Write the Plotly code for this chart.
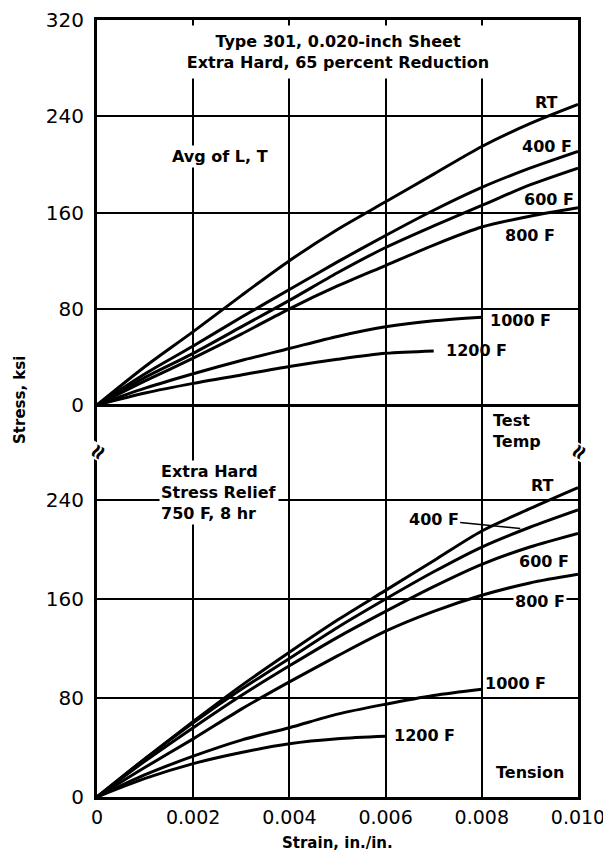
import plotly.graph_objects as go

# deformacion (in./in.)
strain = [0, 0.001, 0.002, 0.003, 0.004, 0.005, 0.006, 0.007, 0.008, 0.009, 0.010]

# panel superior: Avg of L, T
top_rt = [0, 32, 61, 91, 120, 146, 169, 192, 215, 234, 250]
top_400 = [0, 26, 49, 73, 96, 119, 141, 162, 181, 197, 211]
top_600 = [0, 23, 43, 65, 87, 110, 131, 149, 166, 183, 197]
top_800 = [0, 20, 39, 59, 80, 99, 116, 133, 148, 157, 164]
top_1000 = [0, 14, 26, 37, 47, 57, 65, 70, 73]
top_1200 = [0, 10, 18, 25, 32, 38, 43, 45]

# panel inferior: stress relief 750 F, 8 hr
bot_rt = [0, 31, 61, 90, 117, 143, 167, 191, 215, 233, 250]
bot_400 = [0, 31, 60, 87, 112, 137, 160, 182, 202, 218, 232]
bot_600 = [0, 29, 56, 82, 106, 129, 150, 170, 188, 202, 213]
bot_800 = [0, 24, 47, 71, 93, 114, 134, 150, 163, 173, 180]
bot_1000 = [0, 18, 33, 46, 56, 67, 75, 82, 87]
bot_1200 = [0, 15, 27, 36, 43, 47, 49]

x_ticks = [0, 0.002, 0.004, 0.006, 0.008, 0.010]
x_ticktext = ['0', '0.002', '0.004', '0.006', '0.008', '0.010']
y_ticks_top = [0, 80, 160, 240, 320]
y_ticks_bot = [0, 80, 160, 240]

fig = go.Figure()

line_style = dict(color='black', width=3, shape='spline', smoothing=0.8)

for ys in [top_rt, top_400, top_600, top_800, top_1000, top_1200]:
    fig.add_trace(go.Scatter(x=strain[:len(ys)], y=ys, mode='lines', line=line_style,
                             xaxis='x2', yaxis='y2', showlegend=False))
for ys in [bot_rt, bot_400, bot_600, bot_800, bot_1000, bot_1200]:
    fig.add_trace(go.Scatter(x=strain[:len(ys)], y=ys, mode='lines', line=line_style,
                             xaxis='x', yaxis='y', showlegend=False))

tick_font = dict(family='DejaVu Sans', size=20, color='black')
xtick_font = dict(family='DejaVu Sans', size=19, color='black')
lab_font = dict(family='DejaVu Sans', size=16, color='black')
axis_font = dict(family='DejaVu Sans', size=15, color='black')

split = 0.4440

fig.update_layout(
    width=611, height=856,
    margin=dict(l=89, r=41, t=12, b=67),
    plot_bgcolor='white', paper_bgcolor='white',
    xaxis=dict(range=[0, 0.010], domain=[0, 1], anchor='y', automargin=False,
               tickvals=x_ticks, ticktext=x_ticktext, tickfont=xtick_font,
               ticklabelstandoff=1, ticks='', ticklabeloverflow='allow',
               showgrid=True, gridcolor='black', gridwidth=1.8,
               showline=True, linecolor='black', linewidth=3, zeroline=False),
    yaxis=dict(range=[0, 278.8], domain=[0, split], anchor='x', automargin=False,
               tickvals=y_ticks_bot, tickfont=tick_font, ticklabelstandoff=6,
               showgrid=True, gridcolor='black', gridwidth=1.8,
               showline=True, mirror=True, linecolor='black', linewidth=3,
               zeroline=False),
    xaxis2=dict(range=[0, 0.010], domain=[0, 1], anchor='y2', side='top', automargin=False,
                tickvals=x_ticks, showticklabels=False, ticks='',
                showgrid=True, gridcolor='black', gridwidth=1.8,
                showline=True, linecolor='black', linewidth=3, zeroline=False),
    yaxis2=dict(range=[-39.1, 320.2], domain=[split, 1], anchor='x2', automargin=False,
                tickvals=y_ticks_top, tickfont=tick_font, ticklabelstandoff=6,
                ticklabeloverflow='allow',
                showgrid=True, gridcolor='black', gridwidth=1.8,
                showline=True, mirror=True, linecolor='black', linewidth=3,
                zeroline=True, zerolinecolor='black', zerolinewidth=3),
)

ann = []
# panel superior
ann.append(dict(x=0.005, y=294, xref='x2', yref='y2', showarrow=False,
                text='<b>Type 301, 0.020-inch Sheet<br>Extra Hard, 65 percent Reduction</b>',
                font=lab_font, bgcolor='white', width=320, height=50))
ann.append(dict(x=0.00255, y=207, xref='x2', yref='y2', showarrow=False,
                text='<b>Avg of L, T</b>', font=lab_font, bgcolor='white'))
for txt, xx, yy in [('RT', 0.00935, 252), ('400 F', 0.00935, 215), ('600 F', 0.0094, 171),
                    ('800 F', 0.0090, 141), ('1000 F', 0.0088, 70), ('1200 F', 0.0079, 45)]:
    ann.append(dict(x=xx, y=yy, xref='x2', yref='y2', showarrow=False,
                    text='<b>' + txt + '</b>', font=lab_font))
ann.append(dict(x=0.0082, y=-22, xref='x2', yref='y2', showarrow=False, xanchor='left',
                align='left', text='<b>Test<br>Temp</b>', font=lab_font))

# panel inferior
ann.append(dict(x=0.00128, y=246, xref='x', yref='y', showarrow=False, xanchor='left',
                align='left', text='<b>Extra Hard<br>Stress Relief<br>750 F, 8 hr</b>',
                font=lab_font, bgcolor='white'))
for txt, xx, yy in [('RT', 0.00927, 252), ('600 F', 0.0093, 190),
                    ('1000 F', 0.0087, 92), ('1200 F', 0.0068, 50), ('Tension', 0.0090, 20)]:
    ann.append(dict(x=xx, y=yy, xref='x', yref='y', showarrow=False,
                    text='<b>' + txt + '</b>', font=lab_font))
ann.append(dict(x=0.0092, y=158, xref='x', yref='y', showarrow=False,
                text='<b>800 F</b>', font=lab_font, bgcolor='white'))
ann.append(dict(x=0.0088, y=217, xref='x', yref='y', ax=0.0070, ay=224,
                axref='x', ayref='y', showarrow=True, arrowhead=0, arrowwidth=1.5,
                arrowcolor='black', text='<b>400 F</b>', font=lab_font))

# titulos de ejes
ann.append(dict(x=-0.16, y=0.511, xref='paper', yref='paper', showarrow=False,
                xanchor='center', yanchor='middle',
                text='<b>Stress, ksi</b>', textangle=-90, font=axis_font))
ann.append(dict(x=0.5, y=-0.0592, xref='paper', yref='paper', showarrow=False,
                xanchor='center', yanchor='middle',
                text='<b>Strain, in./in.</b>', font=axis_font))

# simbolos de corte del eje
for xx in [0, 1]:
    ann.append(dict(x=xx, y=split, xref='paper', yref='paper', showarrow=False,
                    xanchor='center', yanchor='middle',
                    text='<b>≈</b>', textangle=-60, font=dict(size=26, color='black'),
                    bgcolor='white', borderpad=0))

fig.update_layout(annotations=ann)

fig.write_html("out.html")
